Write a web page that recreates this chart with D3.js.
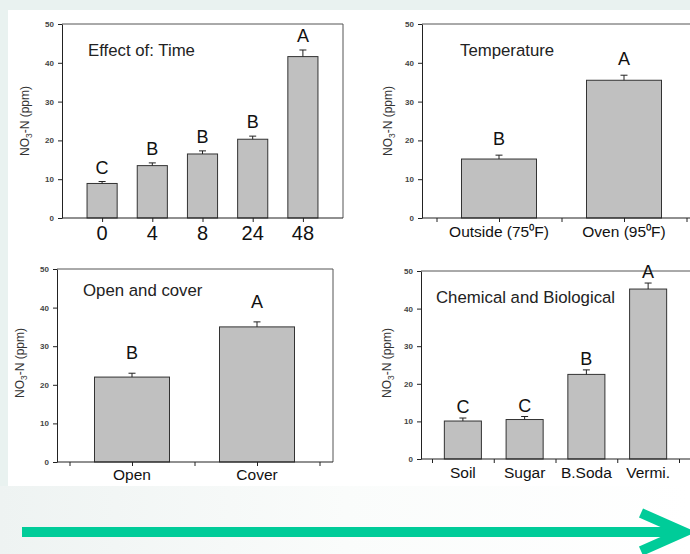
<!DOCTYPE html>
<html>
<head>
<meta charset="utf-8">
<script src="https://cdn.jsdelivr.net/npm/d3@7"></script>
<style>
  html, body { margin: 0; padding: 0; background: #e9f2f0; }
  svg { display: block; font-family: "Liberation Sans", Arial, sans-serif; }
</style>
</head>
<body>
<svg id="chart" width="690" height="554"></svg>
<script>
// ---------- data ----------
const timeCats = ["0", "4", "8", "24", "48"];
const timeVals = [8.9, 13.5, 16.5, 20.3, 41.6];
const timeErr = [0.5, 0.7, 0.8, 0.8, 1.7];
const timeLetters = ["C", "B", "B", "B", "A"];

const tempCats = ["Outside (75\u2070F)", "Oven (95\u2070F)"];
const tempVals = [15.2, 35.5];
const tempErr = [1.0, 1.3];
const tempLetters = ["B", "A"];

const coverCats = ["Open", "Cover"];
const coverVals = [22.0, 35.0];
const coverErr = [1.0, 1.3];
const coverLetters = ["B", "A"];

const chemCats = ["Soil", "Sugar", "B.Soda", "Vermi."];
const chemVals = [10.1, 10.5, 22.5, 45.2];
const chemErr = [0.8, 0.8, 1.2, 1.6];
const chemLetters = ["C", "C", "B", "A"];

const yTicks = [0, 10, 20, 30, 40, 50];
const yMax = 50;

// ---------- layout ----------
const panels = [
  { title: "Effect of: Time", cats: timeCats, vals: timeVals, errs: timeErr, letters: timeLetters,
    ax0: 62, ax1: 343, s0: 77, s1: 328, yTop: 24, yBot: 218, ticks: "center", frameRight: true,
    tx: 88, ty: 56, ytx: 29, yty: 121, gap: 8, lblY: 240, lblSize: 20 },
  { title: "Temperature", cats: tempCats, vals: tempVals, errs: tempErr, letters: tempLetters,
    ax0: 422, ax1: 701, s0: 436.5, s1: 686.5, yTop: 24, yBot: 218, ticks: "both", frameRight: true,
    tx: 460, ty: 56, ytx: 392, yty: 121, gap: 10, lblY: 237, lblSize: 15.5 },
  { title: "Open and cover", cats: coverCats, vals: coverVals, errs: coverErr, letters: coverLetters,
    ax0: 57, ax1: 333, s0: 69.5, s1: 319.5, yTop: 269, yBot: 462, ticks: "both", frameRight: true,
    tx: 83, ty: 296, ytx: 24, yty: 363, gap: 14, lblY: 480, lblSize: 15.5 },
  { title: "Chemical and Biological", cats: chemCats, vals: chemVals, errs: chemErr, letters: chemLetters,
    ax0: 421, ax1: 694, s0: 432, s1: 679, yTop: 271, yBot: 459, ticks: "edges", frameRight: true,
    tx: 436, ty: 303, ytx: 391, yty: 363, gap: 5, lblY: 478, lblSize: 15.5 }
];

const svg = d3.select("#chart");

// background
svg.append("rect").attr("x", 0).attr("y", 0).attr("width", 690).attr("height", 554).attr("fill", "#e9f2f0");
const defs = svg.append("defs");
const grad = defs.append("linearGradient").attr("id", "botg").attr("x1", 0).attr("x2", 1).attr("y1", 0).attr("y2", 0);
grad.append("stop").attr("offset", 0).attr("stop-color", "#eef3f2");
grad.append("stop").attr("offset", 0.5).attr("stop-color", "#fafcfb");
grad.append("stop").attr("offset", 1).attr("stop-color", "#ffffff");
svg.append("rect").attr("x", 0).attr("y", 486).attr("width", 690).attr("height", 68).attr("fill", "url(#botg)");
svg.append("rect").attr("x", 8).attr("y", 10).attr("width", 682).attr("height", 476).attr("fill", "#ffffff");

panels.forEach(p => {
  const g = svg.append("g");
  const n = p.cats.length;
  const y = d3.scaleLinear().domain([0, yMax]).range([p.yBot, p.yTop]);
  const band = d3.scaleBand().domain(p.cats).range([p.s0, p.s1]).paddingInner(0).paddingOuter(0);
  const bw = band.bandwidth() * 0.6;
  const tickScale = d3.scaleLinear().domain([0, n]).range([p.s0, p.s1]);
  let tv = [];
  if (p.ticks === "center") tv = d3.range(n).map(i => i + 0.5);
  else if (p.ticks === "edges") tv = d3.range(n + 1);
  else tv = d3.range(2 * n + 1).map(i => i / 2);

  // frame
  g.append("line").attr("x1", p.ax0).attr("x2", p.ax1).attr("y1", p.yTop).attr("y2", p.yTop)
    .attr("stroke", "#555").attr("stroke-width", 1);
  if (p.frameRight) g.append("line").attr("x1", p.ax1).attr("x2", p.ax1).attr("y1", p.yTop).attr("y2", p.yBot)
    .attr("stroke", "#555").attr("stroke-width", 1);

  // bars
  const data = p.cats.map((c, i) => ({ c, v: p.vals[i], e: p.errs[i], l: p.letters[i] }));
  g.selectAll(".bar").data(data).enter().append("rect")
    .attr("x", d => band(d.c) + band.bandwidth() / 2 - bw / 2)
    .attr("y", d => y(d.v))
    .attr("width", bw)
    .attr("height", d => y(0) - y(d.v))
    .attr("fill", "#c0c0c0").attr("stroke", "#333").attr("stroke-width", 1);

  // error bars + letters
  data.forEach(d => {
    const cx = band(d.c) + band.bandwidth() / 2;
    g.append("line").attr("x1", cx).attr("x2", cx).attr("y1", y(d.v)).attr("y2", y(d.v + d.e))
      .attr("stroke", "#222").attr("stroke-width", 1);
    g.append("line").attr("x1", cx - 3.5).attr("x2", cx + 3.5).attr("y1", y(d.v + d.e)).attr("y2", y(d.v + d.e))
      .attr("stroke", "#222").attr("stroke-width", 1);
    g.append("text").attr("x", cx).attr("y", y(d.v + d.e) - p.gap)
      .attr("text-anchor", "middle").attr("font-size", 18).attr("fill", "#111").text(d.l);
  });

  // y axis
  const ya = g.append("g").attr("transform", `translate(${p.ax0},0)`)
    .call(d3.axisLeft(y).tickValues(yTicks).tickSize(4).tickSizeOuter(0).tickPadding(4));
  ya.select(".domain").attr("stroke", "#222");
  ya.selectAll(".tick line").attr("stroke", "#222");
  ya.selectAll(".tick text").attr("font-size", 8).attr("font-weight", "bold").attr("fill", "#444")
    .attr("font-family", "Liberation Sans, Arial, sans-serif");

  // x axis
  const xa = g.append("g").attr("transform", `translate(0,${p.yBot})`)
    .call(d3.axisBottom(tickScale).tickValues(tv).tickFormat("").tickSize(4).tickSizeOuter(0));
  xa.select(".domain").remove();
  xa.selectAll(".tick line").attr("stroke", "#222");
  g.append("line").attr("x1", p.ax0).attr("x2", p.ax1).attr("y1", p.yBot).attr("y2", p.yBot)
    .attr("stroke", "#222").attr("stroke-width", 1.2);

  // x labels
  g.selectAll(".xl").data(p.cats).enter().append("text")
    .attr("x", c => band(c) + band.bandwidth() / 2).attr("y", p.lblY)
    .attr("text-anchor", "middle").attr("font-size", p.lblSize).attr("fill", "#111").text(c => c);

  // title
  g.append("text").attr("x", p.tx).attr("y", p.ty).attr("font-size", 16.8).attr("fill", "#222")
    .text(p.title);

  // y title
  const yt = g.append("text").attr("transform", `translate(${p.ytx},${p.yty}) rotate(-90)`)
    .attr("text-anchor", "middle").attr("font-size", 12).attr("fill", "#333");
  yt.append("tspan").text("NO");
  yt.append("tspan").attr("font-size", 8.5).attr("dy", 3).text("3");
  yt.append("tspan").attr("dy", -3).text("-N (ppm)");
});

// arrow
const arrowColor = "#00cc99";
svg.append("line").attr("x1", 22).attr("x2", 682).attr("y1", 532).attr("y2", 532)
  .attr("stroke", arrowColor).attr("stroke-width", 10);
svg.append("polyline").attr("points", "641,513 684,532 641,551")
  .attr("fill", "none").attr("stroke", arrowColor).attr("stroke-width", 10)
  .attr("stroke-linejoin", "miter").attr("stroke-miterlimit", 10);
</script>
</body>
</html>
